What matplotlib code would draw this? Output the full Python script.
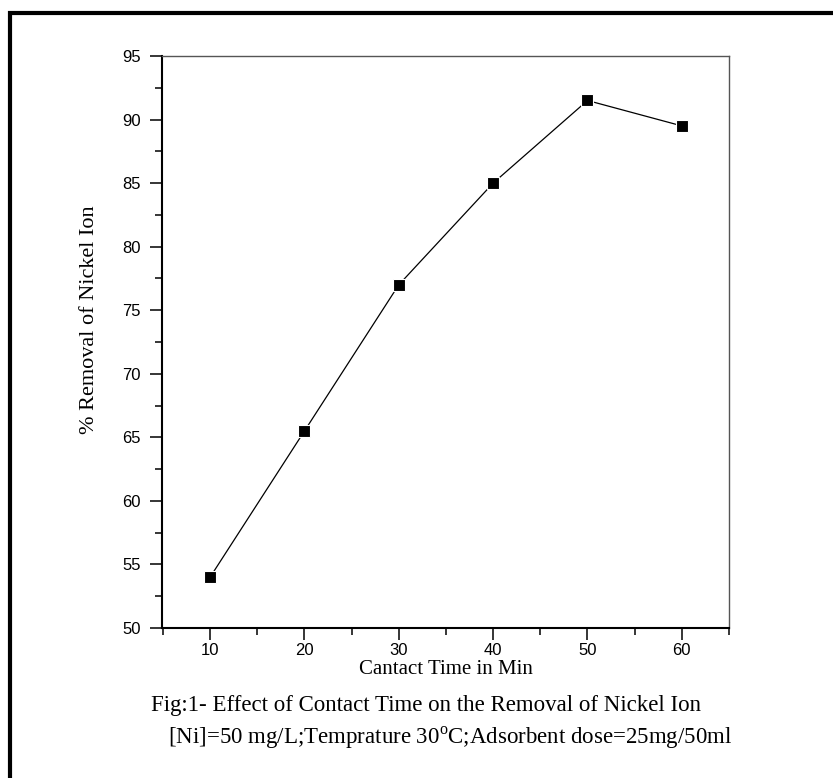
import matplotlib
matplotlib.use('Agg')
import matplotlib.pyplot as plt
from matplotlib.lines import Line2D
from matplotlib.ticker import MultipleLocator

# Contact time (min) vs % removal of nickel ion
time_min = [10, 20, 30, 40, 50, 60]
removal = [54.0, 65.5, 77.0, 85.0, 91.5, 89.5]

x_label = 'Cantact Time in Min'
y_label = '% Removal of Nickel Ion'
caption_1 = 'Fig:1- Effect of Contact Time on the Removal of Nickel Ion'
caption_2 = '[Ni]=50 mg/L;Temprature 30$^{\\mathrm{o}}$C;Adsorbent dose=25mg/50ml'

plt.rcParams['mathtext.fontset'] = 'custom'
plt.rcParams['mathtext.rm'] = 'Liberation Serif'

W, H = 833, 778
fig = plt.figure(figsize=(W / 100, H / 100), dpi=100)
ax = fig.add_axes([162 / W, 1 - 628 / H, (729 - 162) / W, (628 - 56) / H])

ax.plot(time_min, removal, color='black', lw=0.9, marker='s', markersize=8,
        markerfacecolor='black', markeredgecolor='white', markeredgewidth=0.8)

ax.set_xlim(4.9, 65)
ax.set_ylim(50, 95)
ax.xaxis.set_major_locator(MultipleLocator(10))
ax.xaxis.set_minor_locator(MultipleLocator(5))
ax.yaxis.set_major_locator(MultipleLocator(5))
ax.yaxis.set_minor_locator(MultipleLocator(2.5))

for s in ['left', 'bottom']:
    ax.spines[s].set_linewidth(1.5)
    ax.spines[s].set_color('black')
for s in ['top', 'right']:
    ax.spines[s].set_linewidth(1.0)
    ax.spines[s].set_color('#555555')

ax.tick_params(which='major', direction='out', length=8.5, width=1.1,
               top=False, right=False)
ax.tick_params(which='minor', direction='out', length=5, width=1.1,
               top=False, right=False)
ax.tick_params(axis='y', which='major', pad=7)
ax.tick_params(axis='x', which='major', pad=2)
for lab in ax.get_xticklabels() + ax.get_yticklabels():
    lab.set_fontfamily('Liberation Sans')
    lab.set_fontsize(12)

# Title texts (serif)
fig.text(446 / W, 1 - 670 / H, x_label, ha='center', va='center',
         family='Liberation Serif', fontsize=15)
fig.text(90 / W, 1 - 320 / H, y_label, ha='center', va='center',
         rotation=90, family='Liberation Serif', fontsize=16)
fig.text(426 / W, 1 - 706 / H, caption_1, ha='center', va='center',
         family='Liberation Serif', fontsize=16.5)
fig.text(450 / W, 1 - 738 / H, caption_2, ha='center', va='center',
         family='Liberation Serif', fontsize=16.5)

# frame: only left and top edges
fig.add_artist(Line2D([9.5 / W, 9.5 / W, 1.0], [0.0, 1 - 12.5 / H, 1 - 12.5 / H],
                      transform=fig.transFigure, color='black', lw=3.0,
                      solid_joinstyle='miter'))

fig.savefig('out.png', dpi=100)
